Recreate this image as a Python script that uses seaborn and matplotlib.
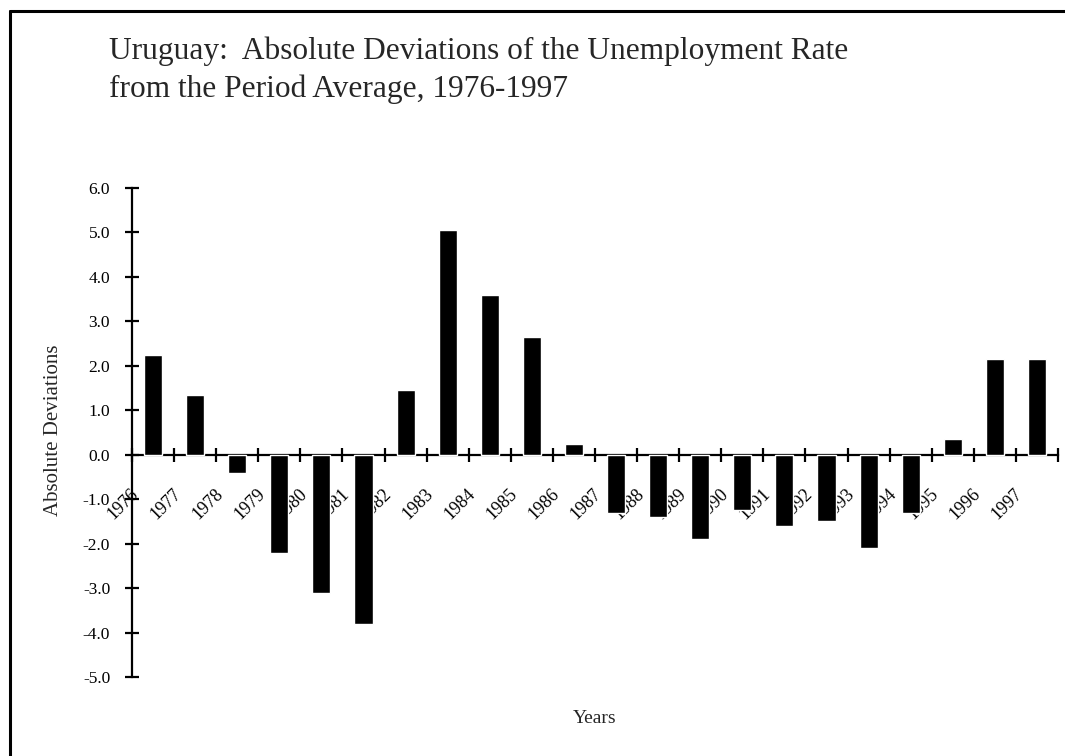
import matplotlib
matplotlib.use('Agg')
import matplotlib.pyplot as plt
from matplotlib.lines import Line2D
from matplotlib.ticker import FixedLocator, FormatStrFormatter
from matplotlib.transforms import ScaledTranslation
import pandas as pd
import seaborn as sns

# data
years = [str(y) for y in range(1976, 1998)]
deviations = [2.25, 1.35, -0.4, -2.2, -3.1, -3.8, 1.45, 5.05, 3.6, 2.65, 0.25,
              -1.3, -1.4, -1.9, -1.25, -1.6, -1.5, -2.1, -1.3, 0.35, 2.15, 2.15]
yticks = [-5, -4, -3, -2, -1, 0, 1, 2, 3, 4, 5, 6]

sns.set_style('white')
plt.rcParams['font.family'] = ['Liberation Serif', 'DejaVu Serif']
plt.rcParams['axes.unicode_minus'] = False

df = pd.DataFrame({'year': years, 'dev': deviations})

fig = plt.figure(figsize=(10.65, 7.56), dpi=100)
ax = fig.add_axes([0.124, 0.1045, 0.8694, 0.6468])

sns.barplot(data=df, x='year', y='dev', color='black', saturation=1,
            width=0.43, ax=ax, zorder=3)

ax.set_ylim(-5, 6)
ax.set_xlim(-0.5, len(years) - 0.5)

for s in ['top', 'right']:
    ax.spines[s].set_visible(False)
ax.spines['bottom'].set_position(('data', 0))
ax.spines['left'].set_linewidth(1.6)
ax.spines['bottom'].set_linewidth(1.6)
ax.spines['left'].set_color('black')
ax.spines['bottom'].set_color('black')

ax.yaxis.set_major_locator(FixedLocator(yticks))
ax.yaxis.set_major_formatter(FormatStrFormatter('%.1f'))
ax.tick_params(axis='y', direction='inout', length=9.5, width=1.6, pad=11,
               labelsize=12.5, colors='black', left=True)

# category ticks sit between bars, labels under the bars
ax.xaxis.set_minor_locator(FixedLocator([i - 0.5 for i in range(len(years) + 1)]))
ax.tick_params(axis='x', which='minor', direction='inout', length=10, width=1.6,
               bottom=True, color='black')
ax.tick_params(axis='x', which='major', length=0, pad=22, labelsize=13,
               labelcolor='black')
offset = ScaledTranslation(-0.11, 0, fig.dpi_scale_trans)
for lab in ax.get_xticklabels():
    lab.set_rotation(45)
    lab.set_ha('right')
    lab.set_transform(lab.get_transform() + offset)

ax.set_xlabel('Years', fontsize=14)
ax.xaxis.set_label_coords(0.5, -0.084)
ax.xaxis.label.set_va('center')
ax.set_ylabel('Absolute Deviations', fontsize=15)
ax.yaxis.set_label_coords(-0.085, 0.505)
ax.yaxis.label.set_va('center')

fig.text(109 / 1065, 1 - 36 / 756,
         'Uruguay:  Absolute Deviations of the Unemployment Rate\n'
         'from the Period Average, 1976-1997',
         ha='left', va='top', fontsize=22.6, linespacing=1.42)

# outer frame, open at right and bottom like the scan
fig.add_artist(Line2D([10 / 1065, 10 / 1065], [0, 1 - 11 / 756], color='black',
                      lw=2.2, transform=fig.transFigure))
fig.add_artist(Line2D([10 / 1065, 1], [1 - 11 / 756, 1 - 11 / 756], color='black',
                      lw=2.2, transform=fig.transFigure))

plt.savefig('out.png', dpi=100)
